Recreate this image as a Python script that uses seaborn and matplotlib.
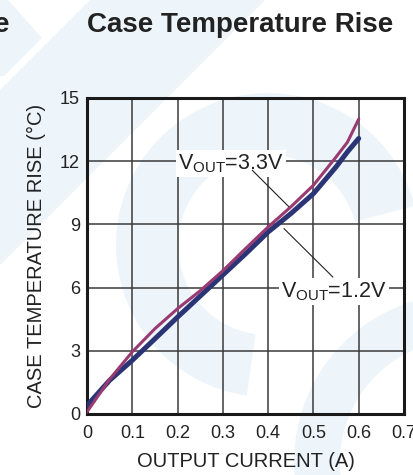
import matplotlib
matplotlib.use("Agg")
import matplotlib.pyplot as plt
from matplotlib.patches import Wedge, Polygon
import seaborn as sns
import pandas as pd

current_33 = [0.0, 0.05, 0.1, 0.15, 0.2, 0.25, 0.3, 0.35, 0.4, 0.45, 0.5, 0.55, 0.575, 0.6]
rise_33 = [0.1, 1.65, 2.95, 4.05, 5.0, 5.85, 6.8, 7.85, 8.88, 9.83, 10.86, 12.2, 12.9, 14.0]
current_12 = [0.0, 0.05, 0.1, 0.15, 0.2, 0.25, 0.3, 0.35, 0.4, 0.45, 0.5, 0.55, 0.575, 0.6]
rise_12 = [0.4, 1.6, 2.55, 3.57, 4.6, 5.6, 6.6, 7.6, 8.64, 9.51, 10.46, 11.73, 12.44, 13.08]

x_ticks = [0, 0.1, 0.2, 0.3, 0.4, 0.5, 0.6, 0.7]
x_tick_labels = ["0", "0.1", "0.2", "0.3", "0.4", "0.5", "0.6", "0.7"]
y_ticks = [0, 3, 6, 9, 12, 15]
y_tick_labels = ["0", "3", "6", "9", "12", "15"]

df = pd.concat([
    pd.DataFrame({"current": current_12, "rise": rise_12, "series": "1.2V"}),
    pd.DataFrame({"current": current_33, "rise": rise_33, "series": "3.3V"}),
])

sns.set_style("white")
plt.rcParams['font.family'] = ['Liberation Sans', 'DejaVu Sans']

W, H = 414, 475
fig = plt.figure(figsize=(W / 100, H / 100), dpi=100)

# faint watermark background (pixel coordinates)
bg = fig.add_axes([0, 0, 1, 1], zorder=0)
bg.set_xlim(0, W)
bg.set_ylim(H, 0)
bg.axis("off")
wm = "#edf5fb"
bg.add_patch(Polygon([(90, 0), (265, 0), (0, 265), (0, 90)], closed=True, color=wm, lw=0))
bg.add_patch(Polygon([(0, 0), (8, 0), (42, 38), (4, 76), (0, 76)], closed=True, color=wm, lw=0))
bg.add_patch(Wedge((268, 245), 152, -262, -15, width=62, color=wm, lw=0))
bg.add_patch(Wedge((462, 462), 168, 160, 270, width=46, color=wm, lw=0))

ax = fig.add_axes([87 / W, 61 / H, 317 / W, 316 / H], zorder=1)
ax.set_facecolor("none")

sns.lineplot(data=df[df.series == "1.2V"], x="current", y="rise", ax=ax,
             color="#2b3576", linewidth=3.6, zorder=3)
sns.lineplot(data=df[df.series == "3.3V"], x="current", y="rise", ax=ax,
             color="#9a3a72", linewidth=2.2, zorder=4)

ax.set_xlim(0, 0.7)
ax.set_ylim(0, 15)
ax.set_xticks(x_ticks)
ax.set_xticklabels(x_tick_labels)
ax.set_yticks(y_ticks)
ax.set_yticklabels(y_tick_labels)
ax.tick_params(axis="x", length=0, labelsize=13, colors="#222222", pad=8)
ax.tick_params(axis="y", length=0, labelsize=13, colors="#222222", pad=5)
ax.grid(True, color="#3a3a3a", linewidth=1.1)
for s in ax.spines.values():
    s.set_color("#1a1a1a")
    s.set_linewidth(2.2)
ax.set_xlabel("OUTPUT CURRENT (A)", fontsize=14.5, color="#222222", labelpad=7)
ax.set_ylabel("CASE TEMPERATURE RISE (°C)", fontsize=14.5, color="#222222", labelpad=10)

# annotations
ax.text(0.318, 11.62, r"V$_{\mathregular{OUT}}$=3.3V", ha="center", va="baseline",
        fontsize=15.5, color="#222222", zorder=5,
        bbox=dict(facecolor="white", edgecolor="none", pad=1.5))
ax.plot([0.365, 0.4456], [11.57, 9.84], color="#222222", linewidth=0.8, zorder=5)
ax.text(0.546, 5.55, r"V$_{\mathregular{OUT}}$=1.2V", ha="center", va="baseline",
        fontsize=15.5, color="#222222", zorder=5,
        bbox=dict(facecolor="white", edgecolor="none", pad=1.5))
ax.plot([0.435, 0.543], [8.8, 6.5], color="#222222", linewidth=0.8, zorder=5)

fig.text(240.5 / W, 1 - 32.5 / H, "Case Temperature Rise", ha="center", va="baseline",
         fontsize=20, fontweight="bold", color="#222222")
fig.text(9.5 / W, 1 - 32.5 / H, "e", ha="right", va="baseline",
         fontsize=20, fontweight="bold", color="#222222")

fig.savefig("out.png", dpi=100)
